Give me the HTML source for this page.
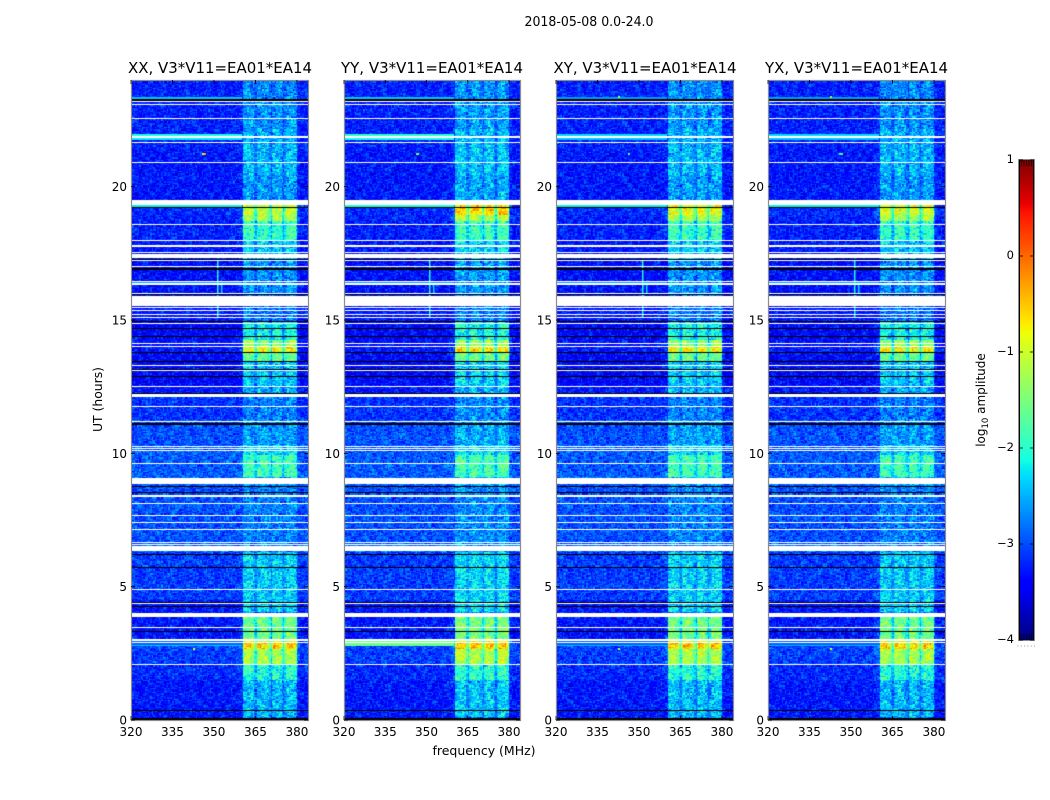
<!DOCTYPE html>
<html>
<head>
<meta charset="utf-8">
<title>2018-05-08 0.0-24.0</title>
<style>
html,body{margin:0;padding:0;background:#fff;}
#figure{position:relative;width:1050px;height:800px;overflow:hidden;background:#fff;}
canvas{position:absolute;display:block;}
#overlay{position:absolute;left:0;top:0;}
text{font-family:"DejaVu Sans","Liberation Sans",sans-serif;fill:#000;}
</style>
</head>
<body>
<div id="figure">
<svg id="overlay" width="1050" height="800" viewBox="0 0 1050 800">
  <text x="589" y="26" font-size="13" text-anchor="middle" textLength="129" lengthAdjust="spacingAndGlyphs">2018-05-08 0.0-24.0</text>
  <text x="220" y="73" font-size="15" text-anchor="middle" textLength="184" lengthAdjust="spacingAndGlyphs">XX, V3*V11=EA01*EA14</text>
  <text x="432" y="73" font-size="15" text-anchor="middle" textLength="182" lengthAdjust="spacingAndGlyphs">YY, V3*V11=EA01*EA14</text>
  <text x="645" y="73" font-size="15" text-anchor="middle" textLength="183" lengthAdjust="spacingAndGlyphs">XY, V3*V11=EA01*EA14</text>
  <text x="856.5" y="73" font-size="15" text-anchor="middle" textLength="183" lengthAdjust="spacingAndGlyphs">YX, V3*V11=EA01*EA14</text>
  <text x="484" y="755" font-size="12" text-anchor="middle" textLength="103" lengthAdjust="spacingAndGlyphs">frequency (MHz)</text>
  <text x="102" y="399.5" font-size="12" text-anchor="middle" textLength="65" lengthAdjust="spacingAndGlyphs" transform="rotate(-90 102 399.5)">UT (hours)</text>
  <text x="985" y="400" font-size="12" text-anchor="middle" transform="rotate(-90 985 400)">log<tspan font-size="8.5" dy="3">10</tspan><tspan dy="-3"> amplitude</tspan></text>
  <g id="axes-layer"></g>
</svg>
</div>
<script>
// ---- Data (hours UT, MHz, log10 amplitude) ----
const xTickValues = [320, 335, 350, 365, 380];
const xTickLabels = ["320", "335", "350", "365", "380"];
const yTickValues = [0, 5, 10, 15, 20];
const yTickLabels = ["0", "5", "10", "15", "20"];
const colorbarTicks = [1, 0, -1, -2, -3, -4];
const colorbarLabels = ["1", "0", "\u22121", "\u22122", "\u22123", "\u22124"];
const polarizations = ["xx", "yy", "xy", "yx"];

// Time blocks: upper edge of each block, with its background and RFI-band level
const blockTop = [24, 23.36, 23.25, 22.13, 21.38, 20.44, 19.5, 19.28, 18.95, 18.68, 18, 17.25, 15.94, 14.93, 14.25, 13.99, 13.8, 13.46, 12.56, 12.19, 11.25, 10.31, 9.94, 9.08, 8.78, 6.56, 6.3, 4.5, 4.05, 3.86, 3, 2.9, 2.63, 2.1, 1.5, 0.11];
const blockBottom = [23.36, 23.25, 22.13, 21.38, 20.44, 19.5, 19.28, 18.95, 18.68, 18, 17.25, 15.94, 14.93, 14.25, 13.99, 13.8, 13.46, 12.56, 12.19, 11.25, 10.31, 9.94, 9.08, 8.78, 6.56, 6.3, 4.5, 4.05, 3.86, 3, 2.9, 2.63, 2.1, 1.5, 0.11, 0];
const backgroundLevel = [-3.25, -3.15, -3.25, -3.25, -3.3, -3.3, -3.0, -3.2, -3.25, -3.25, -3.3, -3.35, -3.3, -3.4, -3.35, -3.3, -3.4, -3.4, -3.3, -3.15, -3.0, -2.95, -2.95, -2.9, -3.0, -2.85, -3.1, -3.3, -3.35, -3.3, -3.15, -3.05, -3.1, -3.2, -3.3, -3.3];
const rfiLevel = [-2.7, -2.7, -2.65, -2.5, -2.45, -2.6, -2.7, -1.05, -1.2, -1.9, -2.35, -2.65, -2.8, -2.1, -1.35, -0.75, -1.6, -2.35, -2.5, -2.75, -2.6, -2.3, -1.85, -2.5, -2.75, -2.75, -2.35, -2.3, -2.8, -1.55, -1.0, -0.55, -1.2, -2.0, -2.45, -2.75];

// Relative strength of the RFI band per 0.5 MHz channel, starting at 320 MHz
const channelGain = [
 0,0,0,0,0,0,0,0,0,0,0,0,0,0,0,0,0,0,0,0,0,0,0,0,0,0,0,0,0,0,0,0,0,0,0,0,0,0,0,0,
 0,0,0,0,0,0,0,0,0,0,0,0,0,0,0,0,0,0,0,0,0,0,0,0,0,0,0,0,0,0,0,0,0,0,0,0,0.03,0.05,0.07,0.1,
 0.15,0.9,1,1,1,1,1,0.95,0.9,0.7,0.55,0.85,1,1,1,1,1,0.95,0.9,0.85,0.7,0.5,0.85,1,1,1,1,0.95,0.9,0.7,
 0.5,0.8,0.95,1,1,1,1,1,0.95,0.85,0.2,0.05,0,0,0,0,0,0
];

// Per-panel adjustment of the RFI band, overall and in the 19 h burst
const panelRfiOffset = [0, 0.08, 0.03, 0];
const panelBurstBoost = [0, 0.45, 0.2, 0.1];

// Fully flagged (white) and zeroed (black) intervals, [upper hour, lower hour]
const flaggedHigh = [23.21,23.10,22.58,21.90,21.68,20.93,19.50,18.60,18.00,17.81,17.55,17.48,17.27,17.03,16.46,16.37,16.03,15.90,15.49,15.39,15.21,15.13,14.89,14.14,14.03,13.31,13.11,12.53,12.23,11.78,11.21,10.28,10.20,10.13,9.64,9.08,8.44,8.14,7.69,7.43,7.16,6.69,6.60,6.54,4.91,4.39,4.01,3.49,3.02,2.91,2.10];
const flaggedLow  = [23.16,23.06,22.54,21.81,21.64,20.89,19.33,18.56,17.96,17.74,17.51,17.33,17.21,16.99,16.41,16.33,15.99,15.53,15.45,15.36,15.17,15.09,14.85,14.10,13.99,13.28,13.07,12.49,12.11,11.72,11.16,10.24,10.16,10.09,9.60,8.85,8.38,8.10,7.65,7.39,7.11,6.66,6.56,6.34,4.86,4.35,3.86,3.45,2.98,2.87,2.06];
const zeroHigh = [23.27,19.25,17.29,16.95,15.98,14.96,14.70,14.40,13.80,13.46,13.16,12.90,12.26,11.12,8.78,8.55,6.23,5.74,4.43,4.28,3.34,0.38,0.09];
const zeroLow  = [23.23,19.21,17.27,16.89,15.94,14.93,14.66,14.36,13.76,13.43,13.13,12.86,12.23,11.06,8.74,8.51,6.19,5.71,4.39,4.24,3.31,0.34,0];

// Broadband interference stripes outside the RFI band: upper hour, lower hour, level per panel
const stripeHigh = [23.36, 21.99, 21.81, 19.33, 16.41, 2.98, 2.83];
const stripeLow  = [23.29, 21.90, 21.75, 19.25, 16.37, 2.80, 2.80];
const stripeXX = [-2.4, -2.1, -2.2, -2.2, -2.6, -2.9, -2.4];
const stripeYY = [-2.4, -2.0, -2.1, -2.1, -2.6, -1.6, -1.6];
const stripeXY = [-2.6, -2.3, -2.4, -2.2, -2.6, -2.9, -2.5];
const stripeYX = [-2.6, -2.3, -2.4, -2.2, -2.6, -2.9, -2.5];
const stripeLevels = [stripeXX, stripeYY, stripeXY, stripeYX];
const bandStartMHz = 360;

// Narrow persistent line near 351 MHz
const lineFreq = [351, 352.4];
const lineHigh = [17.3, 16.4];
const lineLow  = [15.1, 16.0];
const lineLevel = [-2.05, -2.3];

// Isolated bursts: panel index, MHz, hour, level
const burstPanel = [0, 0, 0, 1, 1, 2, 2, 2, 3, 3, 3, 3];
const burstFreq  = [345.5, 346.5, 342.4, 346, 346.5, 342.4, 346, 342.4, 342.4, 345.5, 346.5, 342.4];
const burstHour  = [21.24, 21.24, 2.65, 21.24, 21.24, 23.36, 21.24, 2.65, 23.36, 21.24, 21.24, 2.65];
const burstLevel = [-1.0, -0.4, -0.9, -1.6, -1.4, -1.2, -1.8, -1.0, -1.2, -1.9, -1.8, -1.0];

const grainA = [0.12,-0.21,0.05,0.24,-0.08,-0.17,0.19,-0.03,0.09,-0.25,0.16,0.02,-0.13,0.22,-0.06,-0.19,0.07,0.14,-0.23,0.01,0.25,-0.11,-0.04,0.18,-0.16,0.08,-0.22,0.11,0.04,-0.09,0.2,-0.14,-0.01,0.17,-0.24,0.06,0.13,-0.07,-0.18,0.23,-0.02];
const grainB = [-0.1,0.17,-0.24,0.03,0.21,-0.15,0.08,-0.05,0.25,-0.19,0.11,-0.02,0.14,-0.22,0.06,0.19,-0.12,-0.07,0.23,0.01,-0.17,0.1,-0.25,0.16,0.04,-0.09,0.2,-0.14,0.07,-0.03,0.24,-0.2,0.12,-0.06,0.18,-0.23,0.02,0.15,-0.11,-0.01,0.22,-0.16,0.09];

// ---- Geometry ----
const panelLeft = [131, 344, 556, 768];
const panelWidth = [177, 176, 177, 177];
const plotTop = 80, plotHeight = 640;
const FREQ_MIN = 320, FREQ_MAX = 384, HOUR_MAX = 24;
const CHANNEL_MHZ = 0.5, ROW_HOURS = 0.05;
const barLeft = 1019, barWidth = 15, barTop = 160, barHeight = 480;

function xScale(panel, f) { return (f - FREQ_MIN) / (FREQ_MAX - FREQ_MIN) * panelWidth[panel]; }
function yScale(h) { return (HOUR_MAX - h) / HOUR_MAX * plotHeight; }
function barScale(v) { return barTop + (1 - v) / 5 * barHeight; }

function interp(pts, t) {
  for (let i = 1; i < pts.length; i++) {
    if (t <= pts[i][0]) {
      const a = pts[i - 1], b = pts[i];
      return a[1] + (b[1] - a[1]) * (t - a[0]) / (b[0] - a[0]);
    }
  }
  return pts[pts.length - 1][1];
}
const jetR = [[0,0],[0.35,0],[0.66,1],[0.89,1],[1,0.5]];
const jetG = [[0,0],[0.125,0],[0.375,1],[0.64,1],[0.91,0],[1,0]];
const jetB = [[0,0.5],[0.11,1],[0.34,1],[0.65,0],[1,0]];
function jet(v) {
  const t = Math.max(0, Math.min(1, (v + 4) / 5));
  return "rgb(" + Math.round(255 * interp(jetR, t)) + "," + Math.round(255 * interp(jetG, t)) + "," + Math.round(255 * interp(jetB, t)) + ")";
}

function bandRect(ctx, panel, high, low, color) {
  const y0 = Math.round(yScale(high));
  const y1 = Math.max(y0 + 1, Math.round(yScale(low)));
  ctx.fillStyle = color;
  ctx.fillRect(0, y0, panelWidth[panel], y1 - y0);
}

function drawPanel(p) {
  const canvas = document.createElement("canvas");
  
  
  canvas.width = panelWidth[p];
  canvas.height = plotHeight;
  canvas.style.left = panelLeft[p] + "px";
  canvas.style.top = plotTop + "px";
  const ctx = canvas.getContext("2d");
  ctx.fillStyle = "#fff";
  ctx.fillRect(0, 0, canvas.width, canvas.height);
  const nRows = Math.round(HOUR_MAX / ROW_HOURS);
  const nCh = channelGain.length;
  for (let b = 0; b < blockTop.length; b++) {
    for (let r = 0; r < nRows; r++) {
      const h = (r + 0.5) * ROW_HOURS;
      if (h > blockTop[b] || h <= blockBottom[b]) continue;
      let rfi = rfiLevel[b] + panelRfiOffset[p];
      if (b === 7) rfi += panelBurstBoost[p];
      const y0 = Math.round(yScale((r + 1) * ROW_HOURS));
      const y1 = Math.round(yScale(r * ROW_HOURS));
      for (let c = 0; c < nCh; c++) {
        const g = channelGain[c];
        const grain = grainA[(c * c * 3 + r * 7 + p * 5) % grainA.length] + grainB[(r * r * 5 + c * 11 + p * 3) % grainB.length];
        const v = backgroundLevel[b] + (rfi - backgroundLevel[b]) * g + grain * (1 + 0.25 * g);
        const x0 = Math.round(xScale(p, FREQ_MIN + c * CHANNEL_MHZ));
        const x1 = Math.round(xScale(p, FREQ_MIN + (c + 1) * CHANNEL_MHZ));
        ctx.fillStyle = jet(v);
        ctx.fillRect(x0, y0, x1 - x0, y1 - y0);
      }
    }
  }
  for (let i = 0; i < stripeHigh.length; i++) {
    const y0 = Math.round(yScale(stripeHigh[i]));
    const y1 = Math.max(y0 + 1, Math.round(yScale(stripeLow[i])));
    ctx.fillStyle = jet(stripeLevels[p][i]);
    ctx.fillRect(0, y0, Math.round(xScale(p, bandStartMHz)), y1 - y0);
  }
  for (let i = 0; i < lineFreq.length; i++) {
    ctx.fillStyle = jet(lineLevel[i]);
    const y0 = yScale(lineHigh[i]);
    ctx.fillRect(Math.round(xScale(p, lineFreq[i])), y0, 1.5, yScale(lineLow[i]) - y0);
  }
  for (let i = 0; i < burstPanel.length; i++) {
    if (burstPanel[i] !== p) continue;
    ctx.fillStyle = jet(burstLevel[i]);
    ctx.fillRect(Math.round(xScale(p, burstFreq[i])), Math.round(yScale(burstHour[i])) - 1, 2, 2);
  }
  for (let i = 0; i < flaggedHigh.length; i++) bandRect(ctx, p, flaggedHigh[i], flaggedLow[i], "#fff");
  for (let i = 0; i < zeroHigh.length; i++) bandRect(ctx, p, zeroHigh[i], zeroLow[i], "#000");
  document.getElementById("figure").insertBefore(canvas, document.getElementById("overlay"));
}

function drawColorbar() {
  const canvas = document.createElement("canvas");
  
  
  canvas.width = barWidth;
  canvas.height = barHeight;
  canvas.style.left = barLeft + "px";
  canvas.style.top = barTop + "px";
  const ctx = canvas.getContext("2d");
  for (let y = 0; y < barHeight; y++) {
    ctx.fillStyle = jet(1 - (y + 0.5) / barHeight * 5);
    ctx.fillRect(0, y, barWidth, 1);
  }
  document.getElementById("figure").insertBefore(canvas, document.getElementById("overlay"));
}

const SVG_NS = "http://www.w3.org/2000/svg";
const layer = document.getElementById("axes-layer");
function svgEl(tag, attrs) {
  const el = document.createElementNS(SVG_NS, tag);
  for (const k in attrs) el.setAttribute(k, attrs[k]);
  layer.appendChild(el);
  return el;
}

function drawAxes(p) {
  const L = panelLeft[p], W = panelWidth[p], B = plotTop + plotHeight;
  const frame = svgEl("rect", {x: L + 0.5, y: plotTop + 0.5, width: W, height: plotHeight, fill: "none", stroke: "#8c8c8c", "stroke-width": 1.2});
  
  
  for (let i = 0; i < xTickValues.length; i++) {
    const x = L + xScale(p, xTickValues[i]);
    const t1 = svgEl("line", {x1: x, x2: x, y1: B, y2: B - 4, stroke: "#000", "stroke-width": 0.8});
    
    
    const t2 = svgEl("line", {x1: x, x2: x, y1: plotTop, y2: plotTop + 4, stroke: "#000", "stroke-width": 0.8});
    
    
    const lab = svgEl("text", {x: x, y: B + 16, "font-size": 12, "text-anchor": "middle"});
    lab.textContent = xTickLabels[i];
    
    
  }
  for (let i = 0; i < yTickValues.length; i++) {
    const y = plotTop + yScale(yTickValues[i]);
    const t1 = svgEl("line", {x1: L, x2: L + 4, y1: y, y2: y, stroke: "#000", "stroke-width": 0.8});
    
    
    const t2 = svgEl("line", {x1: L + W, x2: L + W - 4, y1: y, y2: y, stroke: "#000", "stroke-width": 0.8});
    
    
    const lab = svgEl("text", {x: L - 4, y: y + 4.5, "font-size": 12, "text-anchor": "end"});
    lab.textContent = yTickLabels[i];
    
    
  }
}

function drawColorbarAxes() {
  const frame = svgEl("rect", {x: barLeft - 0.5, y: barTop - 0.5, width: barWidth + 1, height: barHeight + 1, fill: "none", stroke: "#8c8c8c", "stroke-width": 1});
  
  
  const sideL = svgEl("line", {x1: barLeft + 0.5, x2: barLeft + 0.5, y1: barTop, y2: barTop + barHeight, stroke: "#000", "stroke-width": 1});
  
  
  const sideR = svgEl("line", {x1: barLeft + barWidth - 0.5, x2: barLeft + barWidth - 0.5, y1: barTop, y2: barTop + barHeight, stroke: "#000", "stroke-width": 1});
  
  
  for (let i = 0; i < colorbarTicks.length; i++) {
    const y = barScale(colorbarTicks[i]);
    const t1 = svgEl("line", {x1: barLeft, x2: barLeft + 4, y1: y, y2: y, stroke: "#000", "stroke-width": 0.8});
    
    
    const t2 = svgEl("line", {x1: barLeft + barWidth, x2: barLeft + barWidth - 4, y1: y, y2: y, stroke: "#000", "stroke-width": 0.8});
    
    
    const lab = svgEl("text", {x: barLeft - 5, y: y + 3, "font-size": 11.5, "text-anchor": "end"});
    lab.textContent = colorbarLabels[i];
    
    
  }
  for (let k = 1; k <= 5; k++) {
    const x = barLeft + k * barWidth / 6;
    const a = svgEl("line", {x1: x, x2: x, y1: barTop, y2: barTop + 6, stroke: "#000", "stroke-width": 0.7});
    
    
    const b = svgEl("line", {x1: x, x2: x, y1: barTop + barHeight, y2: barTop + barHeight - 6, stroke: "#000", "stroke-width": 0.7});
    
    
  }
  for (let k = 0; k <= 5; k++) {
    const d = svgEl("rect", {x: barLeft - 1.5 + k * 3.3, y: barTop + barHeight + 5.5, width: 1, height: 1, fill: "#999"});
    
    
  }
}

for (let p = 0; p < polarizations.length; p++) {
  drawPanel(p);
  drawAxes(p);
}
drawColorbar();
drawColorbarAxes();
</script>
</body>
</html>
